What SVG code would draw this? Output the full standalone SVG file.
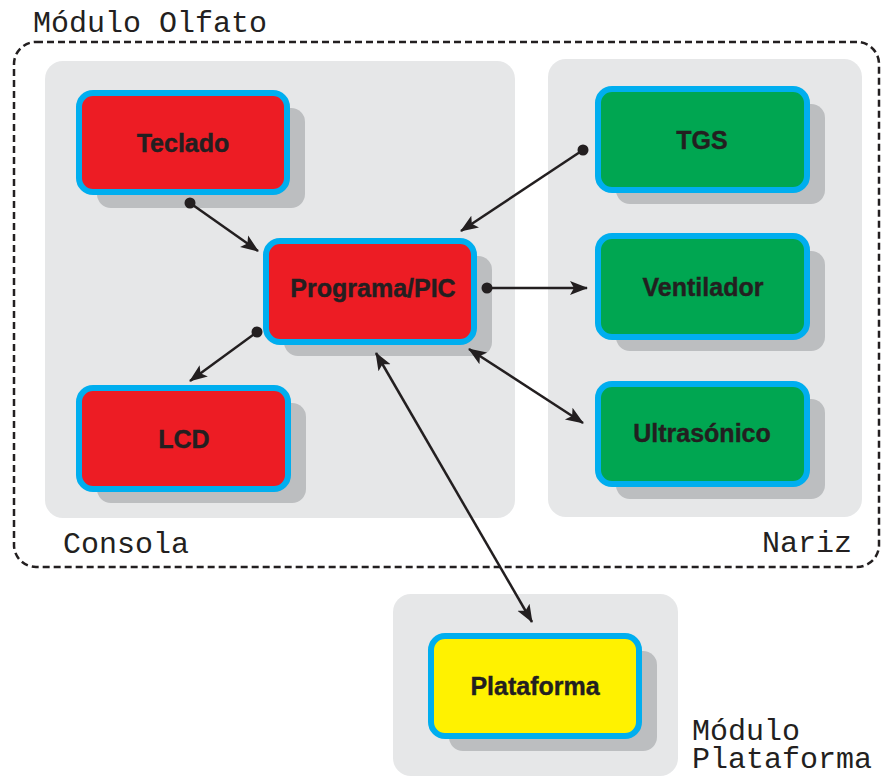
<svg xmlns="http://www.w3.org/2000/svg" width="882" height="777" viewBox="0 0 882 777">
<style>
.panel{fill:#e6e7e8}
.shadow{fill:#bcbec0}
.box{stroke:#00aeef;stroke-width:6}
.red{fill:#ed1c24}
.green{fill:#00a651}
.yellow{fill:#fff200}
.lbl{font-family:"Liberation Sans",Arial,sans-serif;font-weight:bold;font-size:25px;fill:#231f20;stroke:#231f20;stroke-width:0.4;text-anchor:middle}
.mono{font-family:"Liberation Mono","Courier New",monospace;font-size:30px;fill:#231f20}
.conn{stroke:#231f20;stroke-width:2.5;fill:none}
</style>
<defs>
<marker id="arr" markerUnits="userSpaceOnUse" markerWidth="20" markerHeight="16" refX="17" refY="8" orient="auto-start-reverse">
<path d="M0,1 L18,8 L0,15 L4,8 z" fill="#231f20"/>
</marker>
<marker id="dot" markerUnits="userSpaceOnUse" markerWidth="14" markerHeight="14" refX="7" refY="7">
<circle cx="7" cy="7" r="5.5" fill="#231f20"/>
</marker>
</defs>
<rect width="882" height="777" fill="#ffffff"/>
<g id="modulo-olfato">
<rect x="14" y="42" width="865" height="525" rx="22" fill="none" stroke="#231f20" stroke-width="2.5" stroke-dasharray="7,4"/>
<text class="mono" x="33" y="32">Módulo Olfato</text>
</g>
<g id="consola">
<rect class="panel" x="45" y="61" width="470" height="457" rx="18"/>
<text class="mono" x="63" y="553">Consola</text>
</g>
<g id="nariz">
<rect class="panel" x="548" y="59" width="314" height="458" rx="18"/>
<text class="mono" x="762" y="552">Nariz</text>
</g>
<g id="modulo-plataforma">
<rect class="panel" x="393" y="594" width="285" height="182" rx="18"/>
<text class="mono" x="692" y="740">Módulo</text>
<text class="mono" x="692" y="768">Plataforma</text>
</g>
<g id="teclado">
<rect class="shadow" x="97" y="108" width="208" height="100" rx="14"/>
<rect class="box red" x="79" y="93" width="208" height="99" rx="14"/>
<text class="lbl" x="183" y="152">Teclado</text>
</g>
<g id="programa">
<rect class="shadow" x="284" y="256" width="208" height="100" rx="14"/>
<rect class="box red" x="266" y="241" width="208" height="101" rx="14"/>
<text class="lbl" x="373" y="297">Programa/PIC</text>
</g>
<g id="lcd">
<rect class="shadow" x="97" y="403" width="209" height="100" rx="14"/>
<rect class="box red" x="79" y="388" width="209" height="101" rx="14"/>
<text class="lbl" x="184" y="448">LCD</text>
</g>
<g id="tgs">
<rect class="shadow" x="616" y="104" width="209" height="100" rx="14"/>
<rect class="box green" x="598" y="89" width="209" height="101" rx="14"/>
<text class="lbl" x="702" y="149">TGS</text>
</g>
<g id="ventilador">
<rect class="shadow" x="616" y="251" width="209" height="100" rx="14"/>
<rect class="box green" x="598" y="236" width="209" height="101" rx="14"/>
<text class="lbl" x="703" y="296">Ventilador</text>
</g>
<g id="ultrasonico">
<rect class="shadow" x="616" y="399" width="209" height="100" rx="14"/>
<rect class="box green" x="598" y="384" width="209" height="100" rx="14"/>
<text class="lbl" x="702" y="442">Ultrasónico</text>
</g>
<g id="plataforma">
<rect class="shadow" x="449" y="651" width="208" height="100" rx="14"/>
<rect class="box yellow" x="431" y="636" width="208" height="100" rx="14"/>
<text class="lbl" x="535" y="695">Plataforma</text>
</g>
<g id="connectors">
<line class="conn" x1="190" y1="203" x2="258" y2="251" marker-start="url(#dot)" marker-end="url(#arr)"/>
<line class="conn" x1="583" y1="150" x2="461" y2="231" marker-start="url(#dot)" marker-end="url(#arr)"/>
<line class="conn" x1="487" y1="288" x2="587" y2="288" marker-start="url(#dot)" marker-end="url(#arr)"/>
<line class="conn" x1="257" y1="332" x2="190" y2="381" marker-start="url(#dot)" marker-end="url(#arr)"/>
<line class="conn" x1="469" y1="349" x2="583" y2="423" marker-start="url(#arr)" marker-end="url(#arr)"/>
<line class="conn" x1="376" y1="353" x2="532" y2="622" marker-start="url(#arr)" marker-end="url(#arr)"/>
</g>
</svg>
